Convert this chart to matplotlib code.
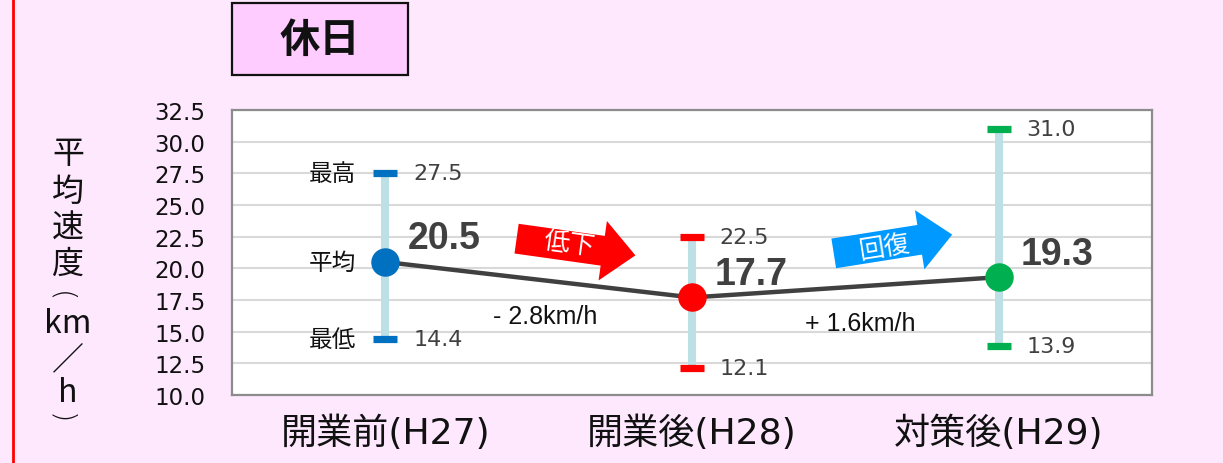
import numpy as np
import matplotlib
matplotlib.use("Agg")
import matplotlib.pyplot as plt
from matplotlib.patches import Polygon, Rectangle
from matplotlib.lines import Line2D

# ---- data ----
categories = ["開業前(H27)", "開業後(H28)", "対策後(H29)"]
avg_speed = [20.5, 17.7, 19.3]
max_speed = [27.5, 22.5, 31.0]
min_speed = [14.4, 12.1, 13.9]
point_colors = ["#0070C0", "#FF0000", "#00B050"]
y_ticks = [10.0, 12.5, 15.0, 17.5, 20.0, 22.5, 25.0, 27.5, 30.0, 32.5]
trend_words = ["低下", "回復"]
trend_colors = ["#FF0000", "#0099FF"]

W, H, DPI = 1223, 464, 100
BG = "#FEE8FE"
CJK = ["DejaVu Sans", "Noto Sans CJK JP"]

fig = plt.figure(figsize=(W / DPI, H / DPI), dpi=DPI, facecolor=BG)


def fx(x):
    return x / W


def fy(y):
    return 1 - y / H


# plot area
ax = fig.add_axes([fx(232), fy(396), fx(920), 285 / H])
ax.set_facecolor("white")
ax.set_xlim(-0.5, 2.5)
ax.set_ylim(y_ticks[0], y_ticks[-1])
ax.set_yticks(y_ticks)
ax.set_yticklabels([f"{t:.1f}" for t in y_ticks], family="DejaVu Sans",
                   fontsize=16.5, color="#111111")
ax.tick_params(axis="y", length=0, pad=19)
ax.grid(axis="y", color="#D9D9D9", lw=1.5, zorder=0)
ax.set_axisbelow(True)
for s in ax.spines.values():
    s.set_color("#8C8C8C")
    s.set_linewidth(1.6)

x = np.arange(len(categories))
ax.set_xticks(x)
ax.set_xticklabels(categories, family=CJK, fontsize=26, color="#111111")
ax.tick_params(axis="x", length=0, pad=14)

# min–max range bars
ax.vlines(x, min_speed, max_speed, color="#BCE0E5", lw=5.8, zorder=2)
for xi, lo, hi, c in zip(x, min_speed, max_speed, point_colors):
    ax.plot([xi, xi], [lo, hi], ls="none", marker="_", ms=17, mew=5.2,
            color=c, zorder=3)

# average line + points
ax.plot(x, avg_speed, color="#404040", lw=3.2, zorder=3, solid_capstyle="round")
for xi, v, c in zip(x, avg_speed, point_colors):
    ax.plot(xi, v, marker="o", ms=19.5, color=c, mec=c, zorder=4)

# value labels
for xi, v, hi, lo in zip(x, avg_speed, max_speed, min_speed):
    ax.annotate(f"{hi:.1f}", (xi, hi), xytext=(20, 0), textcoords="offset points",
                ha="left", va="center", fontsize=16, family="DejaVu Sans",
                color="#404040")
    ax.annotate(f"{lo:.1f}", (xi, lo), xytext=(20, 0), textcoords="offset points",
                ha="left", va="center", fontsize=16, family="DejaVu Sans",
                color="#404040")
    ax.annotate(f"{v:.1f}", (xi, v), xytext=(16, 17), textcoords="offset points",
                ha="left", va="center", fontsize=27, fontweight="bold",
                family="Liberation Sans", color="#404040")

# row captions on the first category
for name, v in zip(["最高", "平均", "最低"], [max_speed[0], avg_speed[0], min_speed[0]]):
    ax.annotate(name, (x[0], v), xytext=(-21, 0), textcoords="offset points",
                ha="right", va="center", fontsize=17, family="Noto Sans CJK JP",
                color="#111111")

# change between periods
for i in range(len(categories) - 1):
    d = avg_speed[i + 1] - avg_speed[i]
    sign = "+" if d >= 0 else "-"
    xm = (x[i] + x[i + 1]) / 2
    ym = (avg_speed[i] + avg_speed[i + 1]) / 2
    ax.annotate(f"{sign} {abs(d):.1f}km/h", (xm, ym), xytext=(5 + 6 * i, -26),
                textcoords="offset points", ha="center", va="center",
                fontsize=18, family="Liberation Sans", color="#111111")


# trend arrows (figure pixel geometry)
def arrow(cx, cy, angle, color, word, tx, ty):
    L, bh, hw, hl = 120, 15, 30, 33
    pts = np.array([(-L / 2, -bh), (L / 2 - hl, -bh), (L / 2 - hl, -hw), (L / 2, 0),
                    (L / 2 - hl, hw), (L / 2 - hl, bh), (-L / 2, bh)])
    a = np.deg2rad(angle)
    R = np.array([[np.cos(a), -np.sin(a)], [np.sin(a), np.cos(a)]])
    p = pts @ R.T
    px = cx + p[:, 0]
    py = (H - cy) + p[:, 1]
    poly = Polygon(np.column_stack([px / W, py / H]), closed=True, fc=color,
                   ec="none", transform=fig.transFigure, zorder=5)
    fig.patches.append(poly)
    fig.text(fx(tx), fy(ty), word, rotation=angle, ha="center", va="center",
             rotation_mode="anchor", fontsize=18.5, family="Noto Sans CJK JP",
             color="white", zorder=6)


arrow(576, 248, -8, trend_colors[0], trend_words[0], 569, 245)
arrow(893, 245, 9, trend_colors[1], trend_words[1], 885, 248)

# title box
fig.patches.append(Rectangle((fx(232), fy(76)), fx(176), 72 / H, fc="#FFCCFF",
                             ec="#111111", lw=1.6, transform=fig.transFigure))
fig.text(fx(320), fy(40), "休日", ha="center", va="center", fontsize=29,
         fontweight="bold", family="Noto Sans CJK JP", color="#111111")

# vertical axis caption, stacked (brackets turned for vertical writing)
ylabel_chars = ["平", "均", "速", "度", "(", "km", "／", "h", ")"]
ylabel_rot = [0, 0, 0, 0, -90, 0, 0, 0, -90]
ylabel_x = [68, 68, 68, 68, 60, 68, 68, 68, 60]
ylabel_pos = [154, 192, 229, 265, 297, 324, 360, 393, 419]
for ch, rot, xx, yy in zip(ylabel_chars, ylabel_rot, ylabel_x, ylabel_pos):
    fam = "DejaVu Sans" if rot else "Noto Sans CJK JP"
    fig.text(fx(xx), fy(yy), ch, ha="center", va="center", rotation=rot,
             rotation_mode="anchor", fontsize=21 if rot else 23, family=fam,
             fontweight="light" if rot else "normal", color="#111111")

# left red rule
fig.add_artist(Line2D([fx(13), fx(13)], [0, 1], color="#FF0000", lw=2,
                      transform=fig.transFigure))

fig.savefig("out.png", dpi=DPI, facecolor=BG)
